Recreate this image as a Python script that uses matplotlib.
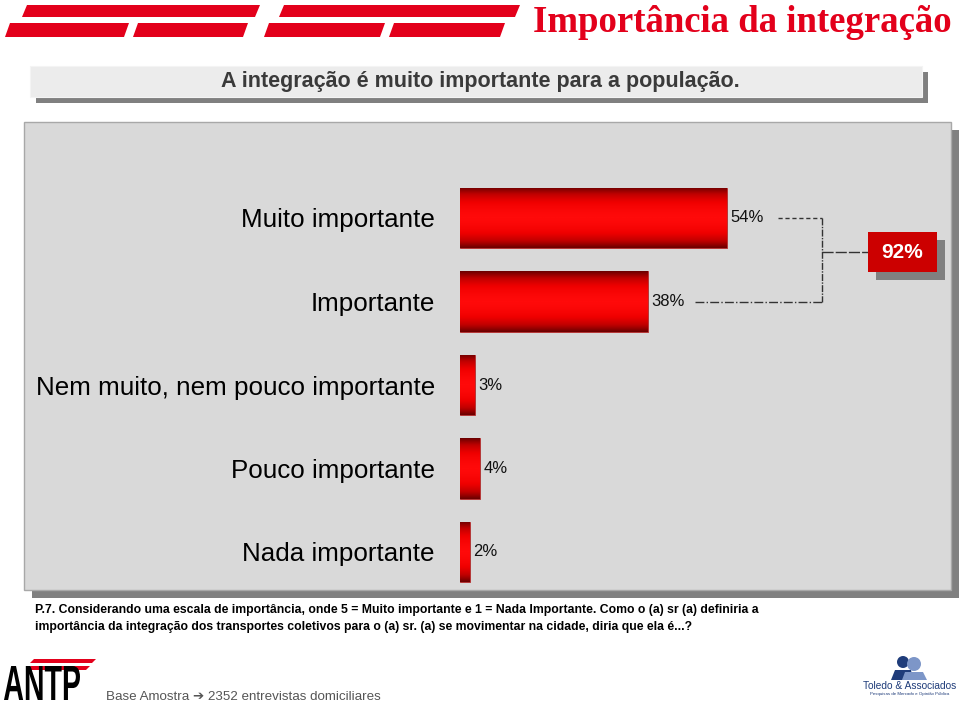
"""Importância da integração - horizontal gradient bar chart."""

import matplotlib

matplotlib.use("Agg")
import matplotlib.pyplot as plt
import numpy as np
from matplotlib.colors import LinearSegmentedColormap
from matplotlib.font_manager import FontProperties
from matplotlib.patches import Circle, PathPatch, Polygon, Rectangle
from matplotlib.textpath import TextPath
from matplotlib.transforms import Affine2D

categories = [
    "Muito importante",
    "Importante",
    "Nem muito, nem pouco importante",
    "Pouco importante",
    "Nada importante",
]
values = [54, 38, 3, 4, 2]
total_label = "92%"

title = "Importância da integração"
subtitle = "A integração é muito importante para a população."
question = [
    "P.7. Considerando uma escala de importância, onde 5 = Muito importante e 1 = Nada Importante. "
    "Como o (a) sr (a) definiria a",
    "importância da integração dos transportes coletivos para o (a) sr. (a) se movimentar na cidade, "
    "diria que ela é...?",
]
base_text = "Base Amostra \u2794 2352 entrevistas domiciliares"

RED = "#e3001b"
PANEL = "#d9d9d9"
SHADOW = "#808080"

plt.rcParams["font.family"] = ["Liberation Sans", "DejaVu Sans"]

W, H = 960, 707
fig = plt.figure(figsize=(W / 100, H / 100), dpi=100)

# background layer in pixel coordinates
bg = fig.add_axes([0, 0, 1, 1])
bg.set_xlim(0, W)
bg.set_ylim(H, 0)
bg.axis("off")


def slanted(x0, x1, y0, y1, skew=5, color=RED):
    bg.add_patch(Polygon([(x0 + skew, y0), (x1 + skew, y0), (x1, y1), (x0, y1)],
                         closed=True, color=color, lw=0))


# red stripes at the top
slanted(22, 255, 5, 17)
slanted(279, 515, 5, 17)
slanted(5, 124, 23, 37)
slanted(133, 243, 23, 37)
slanted(264, 380, 23, 37)
slanted(389, 500, 23, 37)

bg.text(952, 23, title, ha="right", va="center", color=RED, fontsize=26.5,
        fontweight="bold", family=["Liberation Serif", "DejaVu Serif"])

# subtitle box with shadow
bg.add_patch(Rectangle((36, 72), 892, 31, color=SHADOW, lw=0))
bg.add_patch(Rectangle((30, 66), 892, 31, facecolor="#ececec", edgecolor="#f4f4f4", lw=0.8))
bg.text(480, 81.5, subtitle, ha="center", va="center", fontsize=15.5,
        fontweight="bold", color="#3a3a3a")

# main panel with shadow
bg.add_patch(Rectangle((32, 130), 927, 468, color=SHADOW, lw=0))
bg.add_patch(Rectangle((24, 122), 927, 468, facecolor=PANEL, edgecolor="#a8a8a8", lw=1))

# footer question
for i, line in enumerate(question):
    bg.text(35, 610 + i * 17, line, ha="left", va="center", fontsize=8.8,
            fontweight="bold", color="black")

bg.text(106, 697, base_text, ha="left", va="center", fontsize=9.6, color="#555555",
        family=["Liberation Sans", "DejaVu Sans"])

# ANTP logo (narrow letters via a scaled text path)
slanted(30, 92, 659, 663, skew=4)
slanted(27, 86, 666, 670, skew=4)
logo = TextPath((0, 0), "ANTP", size=10,
                prop=FontProperties(family="Liberation Sans", weight="bold"))
lb = logo.get_extents()
sx = 76 / lb.width
sy = 34 / lb.height
tr = Affine2D().translate(-lb.x0, -lb.y0).scale(sx, -sy).translate(4, 700)
bg.add_patch(PathPatch(tr.transform_path(logo), color="black", lw=0))

# Toledo & Associados logo
bg.add_patch(Circle((903, 662), 6, color="#1f3c7a", lw=0))
bg.add_patch(Circle((914, 664), 7, color="#7d96c8", lw=0))
bg.add_patch(Polygon([(891, 680), (895, 670), (911, 670), (913, 680)], color="#1f3c7a", lw=0))
bg.add_patch(Polygon([(902, 680), (905, 672), (923, 672), (927, 680)], color="#7d96c8", lw=0))
bg.text(910, 686, "Toledo & Associados", ha="center", va="center", fontsize=7.3,
        color="#1f3c7a")
bg.text(910, 694, "Pesquisas de Mercado e Opinião Pública", ha="center", va="center",
        fontsize=3.2, color="#1f3c7a")

# bar axes: 0% at x=460px, bars centred every 83.5px from y=218px
top_px, bot_px = 176.25, 593.75
ax = fig.add_axes([460 / W, (H - bot_px) / H, 484 / W, (bot_px - top_px) / H])
ax.patch.set_visible(False)
for s in ax.spines.values():
    s.set_visible(False)

ypos = np.arange(len(categories))
bars = ax.barh(ypos, values, height=0.72, color="#d00000", edgecolor="#b03030", lw=0.6)

cmap = LinearSegmentedColormap.from_list(
    "bar", ["#ff0a0a", "#f00000", "#c00000", "#6e0000"])
grad = np.abs(np.linspace(-1, 1, 64)).reshape(-1, 1) ** 1.6
for b in bars:
    x, y = b.get_x(), b.get_y()
    w, h = b.get_width(), b.get_height()
    im = ax.imshow(grad, cmap=cmap, aspect="auto", extent=[x, x + w, y + h, y],
                   interpolation="bilinear", zorder=2)
    im.set_clip_path(b)

for yi, v in zip(ypos, values):
    ax.text(v + 0.7, yi, f"{v}%", ha="left", va="center", fontsize=12, color="#111111")

ax.set_xlim(0, 98)
ax.set_ylim(len(categories) - 0.5, -0.5)
ax.set_xticks([])
ax.set_yticks(ypos)
ax.set_yticklabels(categories, fontsize=18.7, color="black")
ax.tick_params(axis="y", length=0, pad=18)

# connector from the two top bars to the total box
x_top = values[0] + 10.4
x_mid = values[1] + 9.6
x_join = 73.3
y_box = 0.41
ax.plot([x_top, x_join], [0, 0], color="#333333", lw=1, ls=(0, (3, 2)), clip_on=False)
ax.plot([x_mid, x_join], [1, 1], color="#333333", lw=1, ls="-.", clip_on=False)
ax.plot([x_join, x_join], [0, 1], color="#333333", lw=1, ls=(0, (5, 1, 1, 1)), clip_on=False)
ax.plot([x_join, 82.6], [y_box, y_box], color="#333333", lw=1, ls=(0, (8, 1.5)),
        clip_on=False)

bw, bh = 14.0, 0.48
ax.add_patch(Rectangle((82.6 + 1.6, y_box - bh / 2 + 0.095), bw, bh, color=SHADOW,
                       lw=0, clip_on=False, zorder=3))
ax.add_patch(Rectangle((82.6, y_box - bh / 2), bw, bh, color="#cc0000", lw=0,
                       clip_on=False, zorder=4))
ax.text(82.6 + bw / 2, y_box, total_label, ha="center", va="center", fontsize=15,
        fontweight="bold", color="white", zorder=5)

fig.savefig("out.png", dpi=100)
